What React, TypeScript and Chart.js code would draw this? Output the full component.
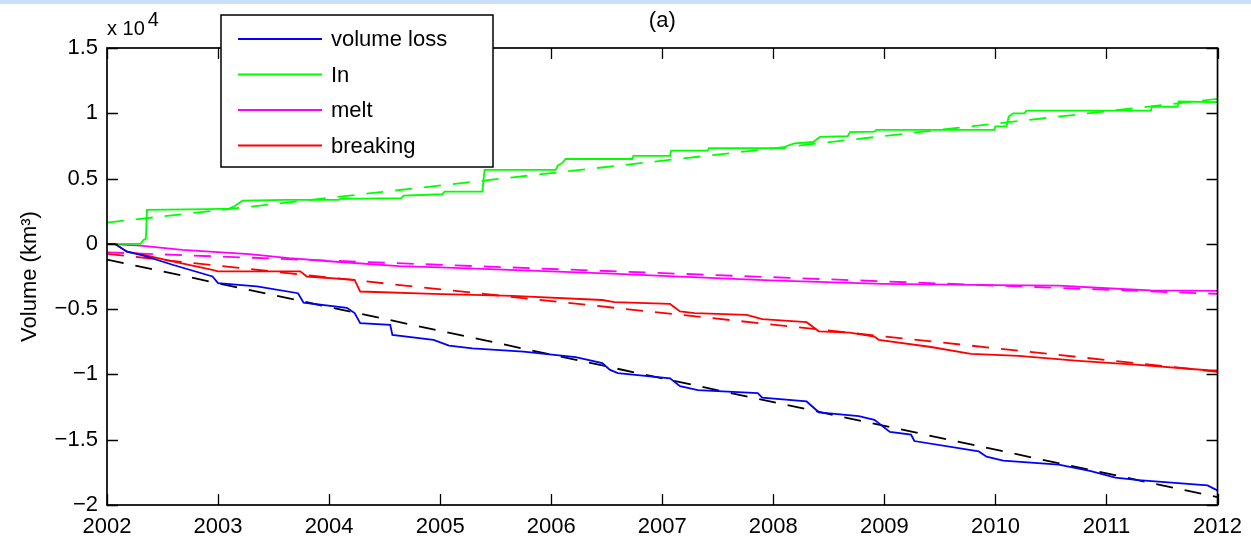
import React, { useEffect, useRef } from "react";
import { Chart, registerables } from "chart.js";

Chart.register(...registerables);

// ---- Data (values in units of 10^4 km^3) ----
const lossYears = [2002.0, 2002.07, 2002.18, 2002.33, 2002.59, 2002.95, 2003.0, 2003.13, 2003.35, 2003.72, 2003.77, 2004.16, 2004.23, 2004.28, 2004.55, 2004.57, 2004.94, 2005.08, 2005.29, 2005.75, 2006.22, 2006.46, 2006.53, 2006.6, 2007.07, 2007.16, 2007.32, 2007.86, 2007.9, 2008.3, 2008.41, 2008.77, 2008.91, 2009.05, 2009.24, 2009.27, 2009.85, 2009.92, 2010.07, 2010.57, 2010.86, 2011.08, 2011.29, 2011.91, 2011.98, 2012.0];
const lossValues = [0, 0, -0.06, -0.09, -0.16, -0.25, -0.3, -0.31, -0.326, -0.378, -0.45, -0.49, -0.53, -0.607, -0.62, -0.697, -0.735, -0.78, -0.8, -0.825, -0.868, -0.914, -0.965, -0.99, -1.03, -1.09, -1.12, -1.143, -1.177, -1.207, -1.29, -1.32, -1.348, -1.44, -1.46, -1.51, -1.59, -1.63, -1.66, -1.69, -1.74, -1.79, -1.81, -1.85, -1.88, -1.89];

const inYears = [2002.0, 2002.3, 2002.33, 2002.35, 2002.36, 2002.9, 2003.1, 2003.15, 2003.22, 2003.6, 2004.09, 2004.1, 2004.65, 2004.67, 2005.02, 2005.04, 2005.38, 2005.4, 2006.04, 2006.06, 2006.1, 2006.13, 2006.73, 2006.74, 2007.07, 2007.08, 2007.41, 2007.42, 2008.1, 2008.12, 2008.19, 2008.36, 2008.42, 2008.67, 2008.69, 2008.91, 2008.93, 2009.99, 2010.0, 2010.1, 2010.12, 2010.16, 2010.26, 2010.28, 2011.4, 2011.41, 2011.64, 2011.65, 2012.0];
const inValues = [0, 0, 0.03, 0.04, 0.26, 0.266, 0.27, 0.29, 0.33, 0.337, 0.337, 0.345, 0.35, 0.37, 0.38, 0.4, 0.4, 0.567, 0.567, 0.6, 0.62, 0.65, 0.65, 0.674, 0.674, 0.714, 0.714, 0.733, 0.733, 0.75, 0.77, 0.78, 0.82, 0.825, 0.855, 0.86, 0.873, 0.873, 0.9, 0.9, 0.975, 1.0, 1.0, 1.02, 1.02, 1.05, 1.05, 1.09, 1.085];

const meltYears = [2002.0, 2002.3, 2002.68, 2003.28, 2003.64, 2004.03, 2004.63, 2005.0, 2006.0, 2006.6, 2007.0, 2007.97, 2008.98, 2009.99, 2010.57, 2011.0, 2011.4, 2012.0];
const meltValues = [0, -0.013, -0.046, -0.078, -0.11, -0.135, -0.17, -0.18, -0.21, -0.23, -0.245, -0.28, -0.306, -0.316, -0.32, -0.34, -0.357, -0.36];

const breakYears = [2002.0, 2002.07, 2002.18, 2002.33, 2002.59, 2002.95, 2003.0, 2003.74, 2003.8, 2004.23, 2004.28, 2004.94, 2005.65, 2006.46, 2006.57, 2007.07, 2007.16, 2007.29, 2007.76, 2007.9, 2008.3, 2008.41, 2008.69, 2008.91, 2008.95, 2009.42, 2009.78, 2010.21, 2010.75, 2011.29, 2011.94, 2012.0];
const breakValues = [0, 0, -0.06, -0.085, -0.135, -0.2, -0.21, -0.21, -0.25, -0.276, -0.365, -0.383, -0.398, -0.43, -0.447, -0.46, -0.518, -0.53, -0.544, -0.577, -0.6, -0.67, -0.68, -0.71, -0.735, -0.79, -0.842, -0.858, -0.896, -0.927, -0.97, -0.97];

// linear trends: [start, end] at trendYears
const trendYears = [2002, 2012];
const inTrend = [0.163, 1.11];
const meltTrend = [-0.065, -0.383];
const breakTrend = [-0.077, -0.98];
const lossTrend = [-0.12, -1.94];

const xTicks = [2002, 2003, 2004, 2005, 2006, 2007, 2008, 2009, 2010, 2011, 2012];
const yTicks = [-2, -1.5, -1, -0.5, 0, 0.5, 1, 1.5];

const legendLabels = ["volume loss", "In", "melt", "breaking"];
const seriesColors = ["#0000ff", "#00ff00", "#ff00ff", "#ff0000"];

const FONT = "'Liberation Sans', Arial, Helvetica, sans-serif";

const pts = (xs: number[], ys: number[]) => xs.map((x, i) => ({ x, y: ys[i] }));

const fmtY = (v: number) => {
  if (v === 0) return "0";
  const s = String(Math.abs(Math.round(v * 100) / 100));
  return v < 0 ? "\u2212" + s : s;
};

const framePlugin = {
  id: "matlabFrame",
  beforeDraw(chart: any) {
    const ctx = chart.ctx;
    ctx.save();
    ctx.fillStyle = "#ffffff";
    ctx.fillRect(0, 0, chart.width, chart.height);
    ctx.fillStyle = "#c9e0f8";
    ctx.fillRect(0, 0, chart.width, 4);
    ctx.restore();
  },
  afterDraw(chart: any) {
    const ctx = chart.ctx;
    const { left, right, top, bottom } = chart.chartArea;
    const xs = chart.scales.x;
    const ys = chart.scales.y;
    ctx.save();
    ctx.strokeStyle = "#000";
    // frame
    ctx.lineWidth = 1.7;
    ctx.strokeRect(left, top, right - left, bottom - top);
    // inward ticks
    const tl = 11;
    ctx.lineWidth = 1.3;
    ctx.beginPath();
    xTicks.forEach((t) => {
      const px = Math.round(xs.getPixelForValue(t)) + 0.5;
      ctx.moveTo(px, bottom);
      ctx.lineTo(px, bottom - tl);
      ctx.moveTo(px, top);
      ctx.lineTo(px, top + tl);
    });
    yTicks.forEach((t) => {
      const py = Math.round(ys.getPixelForValue(t)) + 0.5;
      ctx.moveTo(left, py);
      ctx.lineTo(left + tl, py);
      ctx.moveTo(right, py);
      ctx.lineTo(right - tl, py);
    });
    ctx.stroke();

    // panel label
    ctx.fillStyle = "#000";
    ctx.font = `22px ${FONT}`;
    ctx.textAlign = "center";
    ctx.textBaseline = "alphabetic";
    ctx.fillText("(a)", (left + right) / 2, 27);

    // exponent label
    ctx.textAlign = "left";
    ctx.font = `20px ${FONT}`;
    ctx.fillText("x 10", left, 35);
    const w = ctx.measureText("x 10").width;
    ctx.fillText("4", left + w + 3, 26);

    // legend
    const bx = 221, by = 15, bw = 272, bh = 152;
    ctx.fillStyle = "#fff";
    ctx.fillRect(bx, by, bw, bh);
    ctx.lineWidth = 1.5;
    ctx.strokeStyle = "#000";
    ctx.strokeRect(bx, by, bw, bh);
    ctx.font = `22px ${FONT}`;
    ctx.textBaseline = "middle";
    legendLabels.forEach((lab, i) => {
      const yy = 39 + i * 35.5;
      ctx.strokeStyle = seriesColors[i];
      ctx.lineWidth = 1.8;
      ctx.beginPath();
      ctx.moveTo(238, yy);
      ctx.lineTo(322, yy);
      ctx.stroke();
      ctx.fillStyle = "#000";
      ctx.fillText(lab, 331, yy + 1);
    });
    ctx.restore();
  },
};

export default function App() {
  const ref = useRef<HTMLCanvasElement | null>(null);

  useEffect(() => {
    if (!ref.current) return;
    const solid = (label: string, xs: number[], ys: number[], color: string) => ({
      label,
      data: pts(xs, ys),
      borderColor: color,
      backgroundColor: color,
      borderWidth: 1.8,
      pointRadius: 0,
      tension: 0,
      fill: false,
    });
    const dashed = (label: string, ys: number[], color: string) => ({
      label,
      data: pts(trendYears, ys),
      borderColor: color,
      backgroundColor: color,
      borderWidth: 1.8,
      borderDash: [17, 12],
      pointRadius: 0,
      tension: 0,
      fill: false,
    });
    const chart = new Chart(ref.current, {
      type: "line",
      data: {
        datasets: [
          solid("volume loss", lossYears, lossValues, seriesColors[0]),
          solid("In", inYears, inValues, seriesColors[1]),
          solid("melt", meltYears, meltValues, seriesColors[2]),
          solid("breaking", breakYears, breakValues, seriesColors[3]),
          dashed("In trend", inTrend, seriesColors[1]),
          dashed("melt trend", meltTrend, seriesColors[2]),
          dashed("breaking trend", breakTrend, seriesColors[3]),
          dashed("loss trend", lossTrend, "#000000"),
        ] as any,
      },
      options: {
        animation: false,
        responsive: false,
        devicePixelRatio: 1,
        layout: { padding: { top: 48, right: 29, bottom: 0, left: 0 } },
        plugins: {
          legend: { display: false },
          tooltip: { enabled: false },
          title: { display: false },
        },
        scales: {
          x: {
            type: "linear",
            min: 2002,
            max: 2012,
            grid: { display: false, drawTicks: false },
            border: { display: false },
            ticks: {
              stepSize: 1,
              padding: 9,
              color: "#000",
              font: { family: FONT, size: 22 },
              maxRotation: 0,
              callback: (v: any) => String(v),
            },
            afterFit: (s: any) => {
              s.height = 35;
            },
          },
          y: {
            type: "linear",
            min: -2,
            max: 1.5,
            grid: { display: false, drawTicks: false },
            border: { display: false },
            ticks: {
              stepSize: 0.5,
              padding: 9,
              color: "#000",
              font: { family: FONT, size: 22 },
              callback: (v: any) => fmtY(Number(v)),
            },
            title: {
              display: true,
              text: "Volume (km\u00B3)",
              color: "#000",
              font: { family: FONT, size: 22 },
              padding: { top: 17, bottom: 0 },
            },
            afterFit: (s: any) => {
              s.width = 107;
            },
          },
        },
      } as any,
      plugins: [framePlugin],
    });
    return () => chart.destroy();
  }, []);

  return (
    <canvas
      ref={ref}
      width={1251}
      height={540}
      style={{ position: "absolute", left: 0, top: 0, width: 1251, height: 540, display: "block" }}
    />
  );
}
